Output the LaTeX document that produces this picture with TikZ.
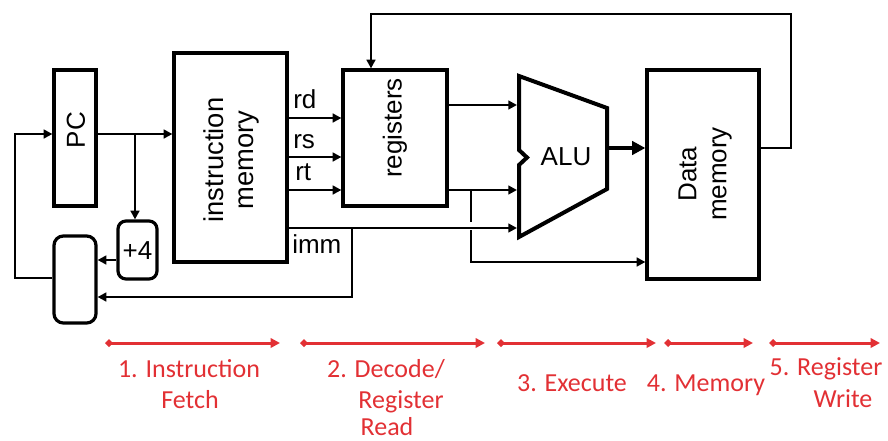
\documentclass[tikz,border=0pt]{standalone}
\usepackage{fontspec}
\setmainfont{Liberation Sans}
\newfontfamily\calib{Carlito}
\usetikzlibrary{arrows.meta,fit}
\definecolor{stagered}{RGB}{226,48,52}
\begin{document}
\begin{tikzpicture}[x=0.75pt,y=-0.75pt,
  box/.style={draw,line width=2.4pt,inner sep=0pt},
  conn/.style={line width=1.7pt,-{Triangle[length=6.5pt,width=6.5pt]}},
  wire/.style={line width=1.7pt},
  lbl/.style={font=\fontsize{19.5pt}{22.5pt}\selectfont,inner sep=0pt},
  stage/.style={stagered,line width=2.25pt,{Diamond[length=6pt,width=6pt]}-{Triangle[length=7pt,width=7pt]}},
  stxt/.style={stagered,font=\calib\fontsize{19.5pt}{22pt}\selectfont,inner sep=0pt,anchor=base}]
\useasboundingbox (0,0) rectangle (888,440);

% blocks
\node[box,fit={(54,70)(96,206)}] (pc) {};
\node[lbl,rotate=90] (pct) at (76,130) {PC};
\node[box,fit={(174,53)(287,262)}] (im) {};
\node[lbl,rotate=90,align=center,font=\fontsize{20.5pt}{22.5pt}\selectfont] (imt) at (231,160) {instruction\\memory};
\node[box,fit={(343,70)(447,206)}] (reg) {};
\node[lbl,rotate=90] (regt) at (395,128) {registers};
\node[box,fit={(647,70)(759,279)}] (dm) {};
\node[lbl,rotate=90,align=center] (dmt) at (705,174) {Data\\memory};
\node[box,rounded corners=6pt,fit={(118,221)(157,279)}] (p4) {};
\node[lbl] (p4t) at (137.5,251) {+4};
\node[box,rounded corners=7pt,fit={(54,236)(96,323)}] (mux) {};

% ALU
\draw[line width=3pt,line join=miter] (519,76) -- (607,108) -- (607,189) -- (519,237) -- (519,165) -- (527,157.5) -- (519,150) -- cycle;
\node[lbl] (alut) at (566,157) {ALU};
\coordinate (aluL) at (517,0);
\coordinate (aluR) at (607,148);

% rows
\coordinate (r105) at (0,105);
\coordinate (r118) at (0,118);
\coordinate (r134) at (0,134);
\coordinate (r148) at (0,148);
\coordinate (r157) at (0,157);
\coordinate (r190) at (0,190);
\coordinate (r228) at (0,228);
\coordinate (r260) at (0,260);
\coordinate (r262) at (0,262);
\coordinate (r278) at (0,278);
\coordinate (r297) at (0,297);

% fetch wiring
\coordinate (b1) at (135,134);
\coordinate (lp1) at (15,278);
\coordinate (lp2) at (15,134);
\draw[conn] (pc.east|-r134) -- (im.west|-r134);
\draw[conn] (b1) -- (b1|-p4.north);
\draw[conn] (p4.west|-r260) -- (mux.east|-r260);
\draw[conn] (mux.west|-r278) -- (lp1) -- (lp2) -- (pc.west|-r134);

% decode wiring
\draw[conn] (im.east|-r118) -- (reg.west|-r118);
\draw[conn] (im.east|-r157) -- (reg.west|-r157);
\draw[conn] (im.east|-r190) -- (reg.west|-r190);
\draw[conn] (im.east|-r228) -- (aluL|-r228);
\coordinate (b2) at (352,228);
\coordinate (b2d) at (352,297);
\draw[conn] (b2) -- (b2d) -- (mux.east|-r297);

\node[lbl,anchor=base west] (rd) at (293,108) {rd};
\node[lbl,anchor=base west] (rs) at (293,148) {rs};
\node[lbl,anchor=base west] (rt) at (295,180) {rt};
\node[lbl,anchor=base west] (imm) at (292,253) {imm};

% execute wiring
\draw[conn] (reg.east|-r105) -- (aluL|-r105);
\draw[conn] (reg.east|-r190) -- (aluL|-r190);
\coordinate (b3) at (471,190);
\coordinate (b3a) at (471,222);
\coordinate (b3b) at (471,230);
\coordinate (b3c) at (471,262);
\draw[wire] (b3) -- (b3a);
\draw[conn] (b3b) -- (b3c) -- (dm.west|-r262);
\draw[line width=3pt,-{Triangle[length=10pt,width=10pt]}] (aluR) -- (dm.west|-aluR);

% write back
\coordinate (w1) at (791,148);
\coordinate (w2) at (791,14);
\coordinate (w3) at (371,14);
\draw[conn] (dm.east|-r148) -- (w1) -- (w2) -- (w3) -- (w3|-reg.north);

% stages
\coordinate (s1a) at (105,343); \coordinate (s1b) at (280,343);
\coordinate (s2a) at (300,343); \coordinate (s2b) at (485,343);
\coordinate (s3a) at (497,343); \coordinate (s3b) at (656,343);
\coordinate (s4a) at (664,343); \coordinate (s4b) at (753,343);
\coordinate (s5a) at (769,343); \coordinate (s5b) at (880,343);
\draw[stage] (s1a) -- (s1b);
\draw[stage] (s2a) -- (s2b);
\draw[stage] (s3a) -- (s3b);
\draw[stage] (s4a) -- (s4b);
\draw[stage] (s5a) -- (s5b);

\node[stxt] (t1a) at (189,377) {1. Instruction};
\node[stxt] (t1b) at (190,408) {Fetch};
\node[stxt] (t2a) at (386,377) {2. Decode/};
\node[stxt] (t2b) at (401,408) {Register};
\node[stxt] (t2c) at (387,435) {Read};
\node[stxt] (t3) at (572,391) {3. Execute};
\node[stxt] (t4) at (706,391) {4. Memory};
\node[stxt] (t5a) at (826,375) {5. Register};
\node[stxt] (t5b) at (843,407) {Write};
\end{tikzpicture}
\end{document}
